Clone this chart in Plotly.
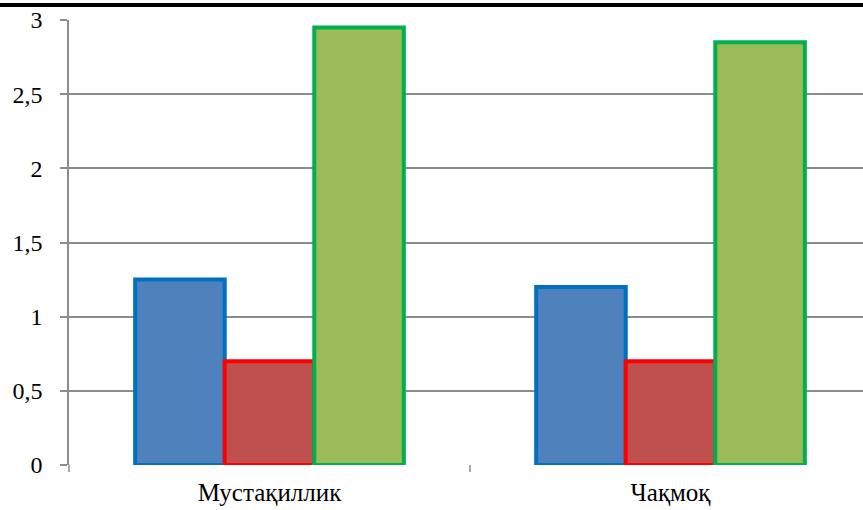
import plotly.graph_objects as go

categories = ["Мустақиллик", "Чақмоқ"]
series_a = [1.25, 1.2]
series_b = [0.7, 0.7]
series_c = [2.95, 2.85]
y_ticks = [0, 0.5, 1, 1.5, 2, 2.5, 3]
y_labels = ["0", "0,5", "1", "1,5", "2", "2,5", "3"]

styles = [
    (series_a, "#4F81BD", "#0070C0"),
    (series_b, "#C0504D", "#FF0000"),
    (series_c, "#9BBB59", "#00B050"),
]

fig = go.Figure()
for vals, fill, edge in styles:
    fig.add_trace(go.Bar(
        x=categories, y=vals,
        marker=dict(color=fill, line=dict(color=edge, width=4)),
        showlegend=False,
    ))

font = dict(family="Liberation Serif, Times New Roman, serif", size=25, color="#000000")
yfont = dict(family="Liberation Serif, Times New Roman, serif", size=24, color="#000000")

fig.update_layout(
    width=863, height=510,
    margin=dict(l=69, r=0, t=20, b=45),
    paper_bgcolor="white", plot_bgcolor="white",
    barmode="group", bargap=0.33, bargroupgap=0.0,
    font=font,
    xaxis=dict(
        range=[-0.5, 1.48],
        showgrid=False,
        showline=False,
        ticks="",
        tickfont=font,
        ticklabelstandoff=10,
        zeroline=False,
    ),
    yaxis=dict(
        range=[0, 3],
        tickvals=y_ticks, ticktext=y_labels,
        showgrid=True, gridcolor="#8C8C8C", gridwidth=1.5,
        showline=True, linecolor="#8C8C8C", linewidth=1.5,
        ticks="outside", ticklen=7, tickcolor="#8C8C8C", tickwidth=1.5,
        ticklabelstandoff=13,
        zeroline=False,
        tickfont=yfont,
    ),
    shapes=[
        # heading rule across the page top
        dict(type="line", xref="paper", yref="paper",
             x0=-69 / 794, x1=1.0, y0=(465 - 5) / 445, y1=(465 - 5) / 445,
             line=dict(color="#000000", width=4)),
        # category separator tick on the x axis
        dict(type="line", xref="x", yref="paper",
             x0=0.5, x1=0.5, y0=0, y1=-7 / 445,
             line=dict(color="#8C8C8C", width=1.5)),
        dict(type="line", xref="paper", yref="paper",
             x0=0, x1=0, y0=0, y1=-7 / 445,
             line=dict(color="#8C8C8C", width=1.5)),
    ],
)

fig.write_html("out.html")
